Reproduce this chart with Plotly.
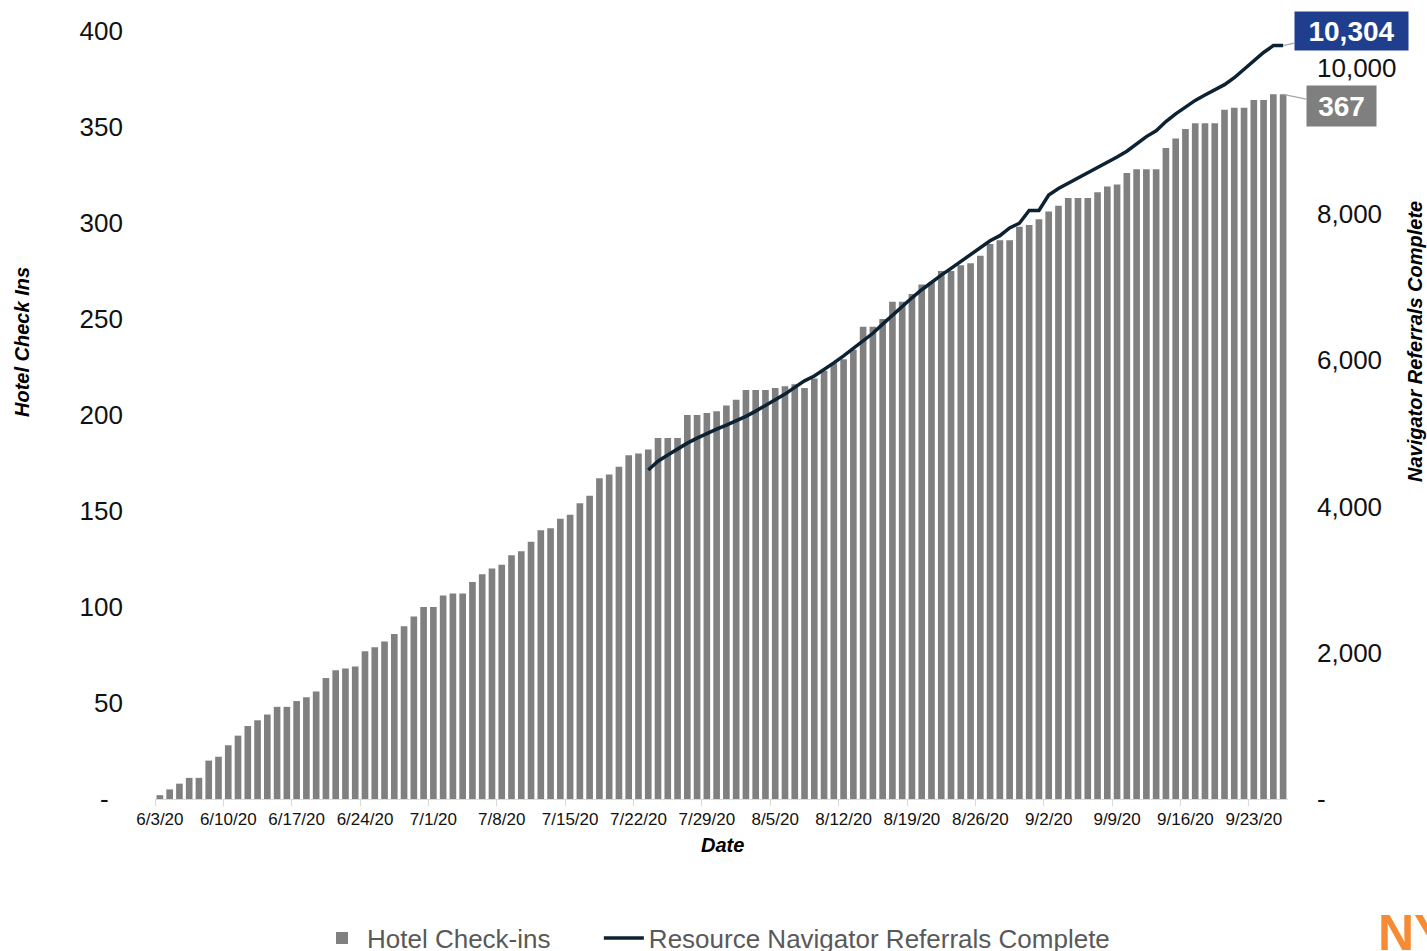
import pandas as pd
import plotly.graph_objects as go

# ---------------- data ----------------
start_date = "2020-06-03"
hotel_checkins = [
    2, 5, 8, 11, 11, 20, 22, 28, 33, 38,
    41, 44, 48, 48, 51, 53, 56, 63, 67, 68,
    69, 77, 79, 82, 86, 90, 95, 100, 100, 106,
    107, 107, 113, 117, 120, 122, 127, 129, 134, 140,
    141, 146, 148, 154, 158, 167, 169, 173, 179, 180,
    182, 188, 188, 188, 200, 200, 201, 202, 205, 208,
    213, 213, 213, 214, 215, 216, 214, 219, 223, 227,
    229, 234, 246, 246, 250, 259, 259, 263, 268, 269,
    275, 275, 278, 279, 283, 289, 291, 291, 298, 299,
    302, 306, 309, 313, 313, 313, 316, 319, 320, 326,
    328, 328, 328, 339, 344, 349, 352, 352, 352, 359,
    360, 360, 364, 364, 367, 367,
]

line_start = "2020-07-23"
navigator_referrals = [
    4500, 4620, 4705, 4790, 4867, 4935, 5000, 5060, 5115, 5170,
    5233, 5305, 5381, 5457, 5538, 5630, 5719, 5785, 5870, 5965,
    6060, 6160, 6262, 6370, 6495, 6620, 6740, 6855, 6965, 7070,
    7165, 7257, 7348, 7439, 7540, 7635, 7705, 7810, 7875, 8050,
    8050, 8260, 8350, 8420, 8500, 8570, 8630, 8700, 8780, 8860,
    8960, 9060, 9140, 9265, 9370, 9465, 9555, 9628, 9700, 9770,
    9865, 9980, 10095, 10210, 10304, 10304,
]

left_tickvals = [0, 50, 100, 150, 200, 250, 300, 350, 400]
left_ticktext = ["-&nbsp;&nbsp;", "50", "100", "150", "200", "250", "300", "350", "400"]
right_tickvals = [0, 2000, 4000, 6000, 8000, 10000]
right_ticktext = ["-", "2,000", "4,000", "6,000", "8,000", "10,000"]

bar_name = "Hotel Check-ins"
line_name = "Resource Navigator Referrals Complete"
left_title = "Hotel Check Ins"
right_title = "Navigator Referrals Complete"
x_title = "Date"

# ---------------- derived ----------------
dates = pd.date_range(start_date, periods=len(hotel_checkins))
line_dates = pd.date_range(line_start, periods=len(navigator_referrals))
label_dates = dates[::7]
label_text = [f"{d.month}/{d.day}/{d.strftime('%y')}" for d in label_dates]
half = pd.Timedelta(hours=12)

# ---------------- geometry ----------------
W, H = 1427, 951
L, R, T, B = 155, 139, 31, 152
PW, PH = W - L - R, H - T - B


def px(xp):
    return (xp - L) / PW


def py(yp):
    return (H - B - yp) / PH


FONT = "Liberation Sans, Arial, Helvetica, sans-serif"
GAP = "&nbsp;" * 6  # spacing between legend entries

fig = go.Figure()
fig.add_trace(go.Bar(
    x=dates, y=hotel_checkins, name=bar_name + GAP,
    marker=dict(color="#808080", line=dict(width=0)),
    yaxis="y",
))
fig.add_trace(go.Scatter(
    x=line_dates, y=navigator_referrals, name=line_name,
    mode="lines", line=dict(color="#0C2233", width=3.5),
    yaxis="y2",
))

fig.update_layout(
    width=W, height=H,
    margin=dict(l=L, r=R, t=T, b=B, autoexpand=False),
    plot_bgcolor="white", paper_bgcolor="white",
    bargap=0.32,
    font=dict(family=FONT, color="#000000"),
    xaxis=dict(
        type="date",
        range=[dates[0] - half, dates[-1] + half],
        tickmode="array", tickvals=label_dates, ticktext=label_text,
        ticks="", tickfont=dict(size=17, color="#111111"),
        ticklabelstandoff=5,
        showgrid=False, zeroline=False,
        showline=True, linecolor="#D9D9D9", linewidth=1,
        minor=dict(tickmode="array", tickvals=label_dates - half,
                   ticks="outside", ticklen=6, tickcolor="#D9D9D9",
                   tickwidth=1, showgrid=False),
        fixedrange=True,
    ),
    yaxis=dict(
        range=[0, 400], tickmode="array",
        tickvals=left_tickvals, ticktext=left_ticktext,
        tickfont=dict(size=26, color="#111111"),
        showgrid=False, zeroline=False, showline=False, ticks="",
        ticklabelstandoff=31,
    ),
    yaxis2=dict(
        range=[0, 10504], overlaying="y", side="right",
        tickmode="array", tickvals=right_tickvals, ticktext=right_ticktext,
        tickfont=dict(size=26, color="#111111"),
        showgrid=False, zeroline=False, showline=False, ticks="",
        ticklabelstandoff=28,
    ),
    showlegend=True,
    legend=dict(
        orientation="h", x=px(317), y=py(938),
        xanchor="left", yanchor="middle",
        font=dict(size=26, color="#595959", family=FONT),
        bgcolor="rgba(0,0,0,0)", traceorder="normal",
        itemwidth=40,
    ),
)

annotations = [
    dict(text=f"<b><i>{left_title}</i></b>", x=px(22), y=py(342),
         xref="paper", yref="paper", showarrow=False, textangle=-90,
         xanchor="center", yanchor="middle",
         font=dict(size=20, color="#000000", family=FONT)),
    dict(text=f"<b><i>{right_title}</i></b>", x=px(1415), y=py(341),
         xref="paper", yref="paper", showarrow=False, textangle=-90,
         xanchor="center", yanchor="middle",
         font=dict(size=20, color="#000000", family=FONT)),
    dict(text=f"<b><i>{x_title}</i></b>", x=px(722), y=py(845),
         xref="paper", yref="paper", showarrow=False,
         xanchor="center", yanchor="middle",
         font=dict(size=20, color="#000000", family=FONT)),
    # data labels for last values
    dict(text=f"<b>{navigator_referrals[-1]:,}</b>", x=line_dates[-1], y=navigator_referrals[-1],
         xref="x", yref="y2", showarrow=True, arrowhead=0, arrowwidth=1.2,
         arrowcolor="#A6A6A6", ax=68, ay=-15, standoff=0,
         bgcolor="#1F3E8E", width=113, height=38, borderpad=0,
         font=dict(size=28, color="white", family=FONT)),
    dict(text=f"<b>{hotel_checkins[-1]}</b>", x=dates[-1], y=hotel_checkins[-1],
         xref="x", yref="y", showarrow=True, arrowhead=0, arrowwidth=1.2,
         arrowcolor="#A6A6A6", ax=58, ay=12, standoff=0,
         bgcolor="#7F7F7F", width=69, height=40, borderpad=0,
         font=dict(size=28, color="white", family=FONT)),
    # logo fragment
    dict(text="<b>NYC</b>", x=px(1376), y=py(903), xref="paper", yref="paper",
         xanchor="left", yanchor="top", showarrow=False,
         font=dict(size=50, color="#F68B33", family=FONT)),
]
fig.update_layout(annotations=annotations)

fig.write_html(
    "out.html",
    config={"displayModeBar": False},
    post_script="document.body.style.margin='0';document.body.style.overflow='hidden';",
)
